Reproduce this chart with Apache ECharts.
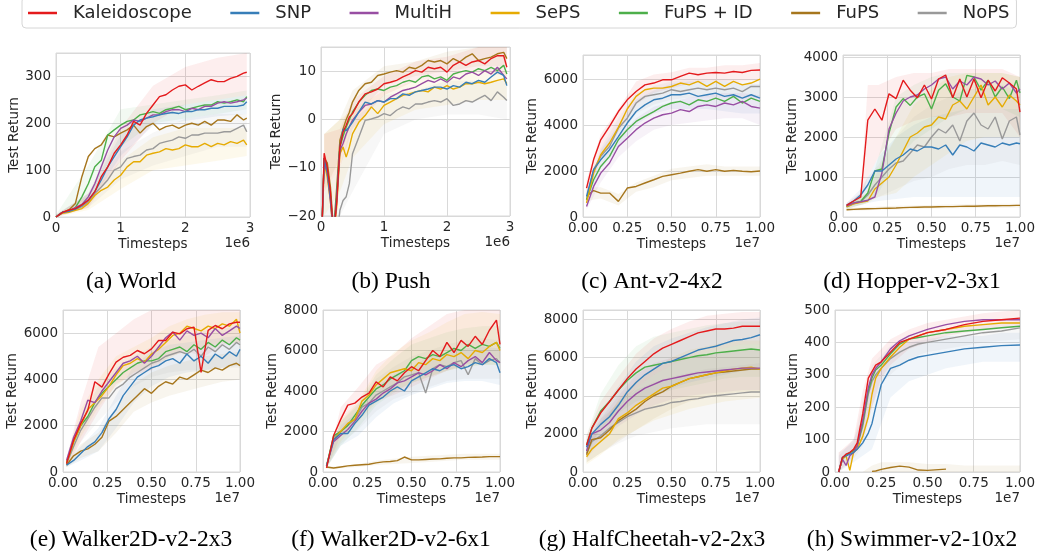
<!DOCTYPE html>
<html>
<head>
<meta charset="utf-8">
<script src="https://cdn.jsdelivr.net/npm/echarts/dist/echarts.min.js"></script>
<style>
  html, body { margin: 0; padding: 0; background: #fff; }
  #chart { width: 1038px; height: 552px; }
</style>
</head>
<body>
<div id="chart"></div>
<script>
// legend order
var seriesNames = ['Kaleidoscope', 'SNP', 'MultiH', 'SePS', 'FuPS + ID', 'FuPS', 'NoPS'];
var seriesColors = ['#e41a1c', '#377eb8', '#984ea3', '#e6ab02', '#4daf4a', '#a6761d', '#999999'];
var captions = ['(a) World', '(b) Push', '(c) Ant-v2-4x2', '(d) Hopper-v2-3x1',
  '(e) Walker2D-v2-2x3', '(f) Walker2D-v2-6x1', '(g) HalfCheetah-v2-2x3', '(h) Swimmer-v2-10x2'];

// (a) World, x in 1e6
var worldX = [0, 0.1, 0.2, 0.3, 0.4, 0.5, 0.6, 0.7, 0.8, 0.9, 1.0, 1.1, 1.2, 1.3, 1.4, 1.5, 1.6, 1.7, 1.8, 1.9, 2.0,
  2.1, 2.2, 2.3, 2.4, 2.5, 2.6, 2.7, 2.8, 2.9, 2.95];
var worldY = [
  [0, 10, 15, 18, 26, 36, 54, 86, 107, 136, 154, 175, 204, 196, 221, 239, 257, 261, 271, 279, 282, 271, 279, 286, 293, 289, 289, 296, 300, 307, 309],
  [0, 10, 12, 17, 25, 36, 54, 79, 107, 129, 150, 171, 196, 207, 211, 214, 218, 221, 223, 221, 225, 225, 229, 229, 232, 232, 236, 236, 236, 239, 246],
  [0, 10, 13, 20, 27, 43, 71, 107, 143, 171, 189, 196, 207, 204, 211, 218, 218, 225, 229, 229, 225, 232, 229, 236, 236, 243, 246, 243, 246, 250, 254],
  [0, 8, 10, 14, 18, 29, 46, 57, 64, 79, 89, 107, 118, 118, 132, 136, 139, 146, 143, 146, 154, 150, 150, 157, 150, 157, 154, 161, 157, 164, 154],
  [0, 10, 12, 20, 43, 71, 107, 121, 175, 186, 196, 204, 207, 218, 221, 225, 221, 229, 232, 236, 229, 232, 236, 239, 239, 246, 243, 246, 250, 246, 257],
  [0, 10, 15, 29, 86, 129, 146, 154, 175, 171, 179, 186, 196, 179, 193, 200, 186, 193, 196, 189, 196, 200, 196, 204, 196, 207, 207, 204, 218, 207, 211],
  [0, 10, 12, 16, 22, 32, 50, 64, 79, 100, 107, 125, 129, 132, 143, 146, 157, 161, 164, 171, 168, 175, 175, 179, 179, 179, 182, 182, 189, 196, 182]
];
var worldBandX = [0, 0.5, 1.0, 1.5, 2.0, 2.5, 2.95];
var worldBands = [
  [0, [0, 20, 120, 200, 240, 250, 260], [5, 50, 190, 280, 320, 340, 350]],
  [1, [0, 25, 130, 195, 205, 215, 220], [5, 50, 175, 230, 240, 250, 260]],
  [3, [0, 15, 60, 100, 110, 120, 130], [5, 45, 120, 170, 190, 190, 190]],
  [4, [0, 40, 150, 200, 210, 220, 230], [5, 110, 230, 240, 250, 260, 270]],
  [6, [0, 20, 80, 110, 130, 150, 150], [5, 50, 140, 180, 210, 220, 220]]
];

// (b) Push, x in 1e6
var pushX = [0.01, 0.05, 0.1, 0.15, 0.2, 0.25, 0.3, 0.35, 0.4, 0.45, 0.5, 0.6, 0.7, 0.8, 0.9, 1.0, 1.1, 1.2, 1.3, 1.4,
  1.5, 1.6, 1.7, 1.8, 1.9, 2.0, 2.1, 2.2, 2.3, 2.4, 2.5, 2.6, 2.7, 2.8, 2.9, 2.95];
var pushY = [
  [-25, -7, -10, -15, -24, -17, -5.7, -2.6, -1.2, 0.5, 1.2, 3.6, 5.3, 5.7, 6.3, 7.4, 7.7, 8.1, 8.8, 9.4, 10.1, 9.8, 10.8, 10.5, 10.8, 9.8, 11.2, 11.9, 11.2, 11.9, 12.2, 11.5, 12.6, 13.2, 13.2, 10.8],
  [-25, -8, -11, -16, -24, -16, -5.7, -2, -2.3, -1.5, -0.6, 1.5, 3.6, 3.2, 3.9, 3.6, 4.3, 4.3, 5.3, 5, 5.7, 6, 6.3, 6.7, 6.7, 6.3, 7, 6.7, 7.7, 7.4, 8.1, 7.7, 8.8, 9.8, 9.1, 7],
  [-25, -9, -11, -17, -24, -17, -6.4, -5, -3, -1.5, -0.2, 1.5, 2.9, 3.2, 3.9, 3.6, 4.6, 5.3, 6, 6.3, 6.7, 7.4, 8.1, 7.7, 8.4, 7.7, 8.8, 8.4, 9.4, 9.8, 9.1, 10.1, 9.4, 10.8, 9.1, 8.4],
  [-25, -9, -12, -17, -25, -18, -7.1, -5.7, -7.8, -5.7, -3, -0.6, 0.8, 2.6, 1.2, 2.9, 3.6, 4.3, 5, 5.3, 5.7, 6, 5.7, 6.7, 6.3, 7, 6.3, 6.7, 7.4, 7.4, 7.7, 7.4, 7.7, 8.1, 8.4, 7.4],
  [-25, -8, -11, -16, -24, -16, -5.7, -3.5, -1.6, 0, 1.5, 3.6, 5, 6, 6.3, 6, 6.7, 7, 7.7, 8.1, 7.7, 8.8, 9.1, 8.4, 8.8, 8.1, 9.4, 9.8, 10.1, 9.8, 10.5, 10.1, 10.8, 10.1, 11.2, 9.4],
  [-25, -8, -9, -14, -23, -14, -4.3, -2, 0, 1.5, 3.6, 6, 7.4, 7.7, 9.1, 9.4, 9.8, 10.1, 9.8, 10.8, 10.5, 11.2, 12.2, 11.9, 12.2, 11.5, 12.6, 11.9, 12.9, 13.6, 12.2, 12.6, 12.9, 13.6, 13.9, 12.6],
  [-30, -30, -30, -30, -30, -25, -18.8, -16.8, -16, -13.3, -7.1, -3.7, -0.2, 0.1, 0.5, 1.2, 0.8, 1.9, 2.6, 2.2, 3.2, 3.2, 3.6, 3.9, 3.6, 4.3, 2.9, 3.2, 3.9, 3.6, 4.3, 5, 3.9, 5.7, 4.6, 3.9]
];
var pushBandX = [0.05, 0.3, 0.5, 1.0, 1.5, 2.0, 2.5, 2.95];
var pushBands = [
  [0, [-15, -10, -2, 5, 8, 9, 10, 9], [-3, -2, 4, 9, 12, 13, 15, 15]],
  [3, [-20, -15, -8, -1, 2, 3, 4, 4], [-3, 0, 2, 6, 8, 9, 10, 10]],
  [5, [-15, -8, 0, 7, 9, 10, 11, 11], [-3, 0, 6, 11, 12, 14, 15, 15]],
  [6, [-30, -30, -15, -3, 0, 1, 1, 0], [-15, -10, 0, 5, 6, 8, 8, 8]]
];

// (c) Ant-v2-4x2, x in 1e7
var antX = [0.02, 0.06, 0.1, 0.15, 0.2, 0.25, 0.3, 0.35, 0.4, 0.45, 0.5, 0.55, 0.6, 0.65, 0.7, 0.75, 0.8, 0.85, 0.9, 0.95, 1.0];
var antY = [
  [1260, 2500, 3360, 3940, 4590, 5100, 5460, 5750, 5830, 5970, 5970, 6120, 6260, 6190, 6260, 6290, 6260, 6330, 6290, 6380, 6400],
  [900, 2060, 2490, 2930, 3500, 4090, 4590, 4880, 5100, 5170, 5320, 5320, 5390, 5250, 5320, 5390, 5250, 5320, 5170, 5320, 5170],
  [460, 1330, 1910, 2350, 3070, 3430, 3800, 4090, 4300, 4450, 4520, 4670, 4590, 4810, 4880, 4810, 4960, 4880, 5030, 4810, 4740],
  [610, 1910, 2710, 3220, 3900, 4700, 5250, 5540, 5610, 5610, 5680, 5830, 5750, 5900, 5680, 5900, 5680, 5900, 5750, 5830, 6000],
  [750, 1620, 2200, 2640, 3360, 3800, 4160, 4380, 4590, 4810, 4960, 5030, 4880, 5100, 5030, 5170, 5030, 5250, 4960, 5170, 5030],
  [900, 1150, 1040, 1040, 680, 1260, 1330, 1480, 1620, 1770, 1840, 1910, 1990, 2060, 1990, 2060, 1990, 2030, 1990, 1970, 2000],
  [750, 2060, 2640, 3070, 3870, 4300, 4960, 5250, 5320, 5390, 5540, 5460, 5540, 5610, 5540, 5610, 5540, 5610, 5460, 5680, 5680]
];
var antBandX = [0.02, 0.1, 0.2, 0.3, 0.4, 0.5, 0.6, 0.7, 0.8, 0.9, 1.0];
var antBands = [
  [0, [900, 2500, 3700, 4900, 5400, 5600, 5800, 5900, 5900, 5900, 6000], [1600, 3600, 4700, 5900, 6200, 6300, 6500, 6500, 6600, 6600, 6700]],
  [1, [700, 2100, 3000, 4000, 4500, 4700, 4700, 4700, 4600, 4500, 4500], [1100, 2900, 4000, 5100, 5500, 5800, 5900, 5900, 5900, 5800, 5800]],
  [6, [600, 2300, 3400, 4500, 4900, 5100, 5200, 5200, 5200, 5100, 5200], [900, 3000, 4300, 5400, 5700, 5900, 6000, 6000, 6000, 5900, 6000]],
  [2, [300, 1500, 2600, 3300, 3800, 4000, 4100, 4200, 4300, 4300, 4000], [600, 2300, 3500, 4300, 4800, 5000, 5200, 5300, 5400, 5400, 5300]],
  [5, [700, 800, 500, 1100, 1300, 1600, 1700, 1800, 1800, 1800, 1800], [1300, 1300, 1000, 1500, 1800, 2100, 2200, 2300, 2200, 2200, 2200]]
];

// (d) Hopper-v2-3x1
var hopperX = [0.02, 0.06, 0.10, 0.14, 0.18, 0.22, 0.26, 0.30, 0.34, 0.38, 0.42, 0.46, 0.50, 0.54, 0.58, 0.62, 0.66,
  0.70, 0.74, 0.78, 0.82, 0.86, 0.90, 0.94, 0.98, 1.0];
var hopperY = [
  [290, 400, 500, 2420, 2700, 2420, 3080, 2960, 3420, 3170, 2980, 3300, 2950, 3450, 3550, 2980, 3450, 3000, 3450, 2980, 3420, 3150, 3480, 3350, 3200, 2620],
  [300, 400, 550, 800, 1150, 1150, 1300, 1450, 1550, 1700, 1650, 1750, 1750, 1700, 1800, 1550, 1800, 1750, 1650, 1850, 1800, 1750, 1850, 1800, 1850, 1830],
  [280, 350, 380, 420, 500, 1100, 2200, 2600, 2900, 3000, 3050, 3200, 3300, 3450, 3500, 3200, 3400, 3300, 3500, 3450, 3300, 3400, 3200, 3350, 3100, 3200],
  [260, 330, 370, 400, 700, 850, 1000, 1300, 1650, 2000, 2100, 2250, 2300, 2500, 2450, 2800, 2900, 2700, 3000, 3300, 2800, 3000, 2750, 3050, 2900, 2800],
  [260, 350, 390, 600, 1150, 1200, 2100, 2750, 2960, 2790, 3000, 3080, 2700, 3170, 3330, 3000, 2900, 3540, 3500, 3170, 3420, 3000, 3250, 2960, 3420, 3100],
  [180, 190, 200, 205, 210, 215, 220, 225, 235, 240, 245, 250, 250, 255, 260, 260, 265, 270, 270, 275, 280, 280, 285, 285, 290, 290],
  [250, 330, 380, 550, 800, 1000, 1200, 1350, 1400, 1600, 1800, 1750, 2000, 2200, 2100, 2300, 1900, 2400, 2600, 2300, 2200, 2500, 1950, 2400, 2500, 2050]
];
var hopperBandX = [0.02, 0.1, 0.14, 0.2, 0.3, 0.4, 0.5, 0.6, 0.7, 0.8, 0.9, 1.0];
var hopperBands = [
  [0, [250, 400, 1000, 1500, 2200, 2400, 2500, 2500, 2600, 2600, 2600, 2000], [350, 600, 3300, 3300, 3500, 3600, 3600, 3700, 3700, 3700, 3700, 3500]],
  [1, [250, 300, 350, 400, 450, 500, 500, 500, 500, 500, 500, 500], [350, 700, 1000, 1500, 2000, 2300, 2500, 2600, 2700, 2700, 2700, 2700]],
  [3, [200, 300, 350, 500, 600, 1000, 1300, 1600, 1900, 2000, 2000, 2000], [300, 500, 600, 1200, 2000, 2800, 3200, 3500, 3600, 3600, 3600, 3500]],
  [4, [200, 300, 350, 600, 1400, 1900, 2200, 2500, 2700, 2700, 2700, 2500], [300, 500, 600, 1500, 3000, 3300, 3500, 3600, 3600, 3600, 3600, 3500]],
  [6, [200, 300, 400, 500, 700, 900, 1000, 1200, 1300, 1300, 1400, 1300], [300, 600, 1000, 1300, 2000, 2500, 2800, 3000, 3200, 3200, 3300, 3100]],
  [5, [150, 160, 170, 180, 190, 200, 210, 220, 220, 230, 230, 240], [230, 240, 250, 260, 280, 290, 300, 310, 320, 320, 330, 330]]
];

// (e) Walker2D-v2-2x3
var walkerAX = hopperX;
var walkerAY = [
  [360, 1370, 2090, 2660, 3900, 3670, 4240, 4750, 4960, 5040, 5250, 5110, 5320, 5680, 5680, 6040, 5970, 6190, 6260, 4300, 6120, 6330, 6190, 6400, 6470, 6470],
  [300, 500, 800, 1100, 1300, 1700, 2300, 2700, 3300, 3700, 4100, 4300, 4500, 4600, 4800, 4900, 4700, 5100, 4800, 5000, 4700, 5100, 4900, 5200, 5000, 5300],
  [500, 1500, 2200, 3100, 3000, 3500, 3900, 4300, 4700, 4800, 5000, 4700, 5000, 5400, 5800, 6050, 5700, 6100, 5900, 6000, 5800, 6200, 5900, 6100, 6300, 6200],
  [400, 1300, 2000, 2700, 3000, 3300, 3700, 4200, 4600, 4700, 4900, 4750, 5100, 5300, 5600, 5900, 6000, 6300, 6200, 6100, 6300, 6200, 6400, 6300, 6600, 6000],
  [400, 1300, 2000, 2400, 3000, 3400, 3700, 4000, 4300, 4500, 4700, 4800, 4800, 4900, 5200, 5300, 5400, 5200, 5500, 5300, 5600, 5400, 5700, 5500, 5800, 5700],
  [300, 700, 900, 1000, 1200, 1500, 2200, 2400, 2700, 3000, 3300, 3600, 3400, 3700, 3900, 3800, 4100, 4000, 4200, 4400, 4300, 4500, 4400, 4600, 4700, 4600],
  [350, 1100, 1800, 2300, 2800, 3200, 3200, 3600, 3800, 4100, 4300, 4500, 4700, 4800, 5000, 5100, 5200, 5100, 5300, 5000, 5400, 5200, 5500, 5300, 5600, 5500]
];
var walkerBandX = [0.02, 0.1, 0.2, 0.3, 0.4, 0.5, 0.6, 0.7, 0.8, 0.9, 1.0];
var walkerABands = [
  [0, [200, 1300, 2600, 3800, 4200, 4400, 5000, 5200, 5000, 5500, 5600], [600, 3000, 5400, 6000, 6600, 7000, 7000, 7000, 7000, 7000, 7000]],
  [1, [200, 500, 900, 1900, 3000, 3700, 4100, 4300, 4400, 4500, 4600], [400, 1100, 1900, 3300, 4600, 5200, 5500, 5600, 5700, 5800, 5900]],
  [5, [200, 600, 900, 1700, 2600, 3000, 3300, 3500, 3700, 3900, 4000], [400, 1200, 1700, 2800, 3800, 4300, 4600, 4800, 5000, 5100, 5200]],
  [6, [200, 1300, 2200, 3000, 3700, 4100, 4300, 4400, 4400, 4500, 4500], [500, 2300, 3700, 4500, 5000, 5400, 5700, 5900, 6100, 6200, 6300]],
  [3, [200, 1500, 2800, 3700, 4300, 4600, 4900, 5300, 5400, 5600, 5600], [600, 2700, 4000, 5000, 5400, 5800, 6300, 6600, 6800, 6900, 6900]]
];

// (f) Walker2D-v2-6x1
var walkerBX = hopperX;
var walkerBY = [
  [200, 1800, 2600, 3300, 3400, 3700, 3900, 4450, 4200, 4700, 4500, 4900, 5200, 5000, 5500, 6000, 5700, 6400, 5900, 6500, 6200, 6700, 6300, 7000, 7500, 6300],
  [300, 1600, 1900, 1900, 2400, 2800, 3300, 3500, 3700, 4000, 4200, 4000, 4500, 4700, 4900, 5100, 5000, 5200, 5300, 5100, 5200, 5400, 5300, 5600, 5400, 4900],
  [300, 1500, 1800, 2100, 2500, 3000, 3400, 3600, 3900, 4100, 4400, 4500, 4700, 4900, 4800, 5000, 5300, 5100, 5400, 5200, 5500, 5700, 5400, 5900, 5500, 5400],
  [300, 1600, 2000, 2400, 2600, 3500, 3800, 4300, 4600, 4900, 5000, 5100, 5000, 5400, 5300, 5600, 5500, 5800, 5700, 5900, 5600, 6000, 5900, 6200, 6400, 6000],
  [300, 1800, 2000, 2300, 2800, 3300, 3700, 4100, 4300, 4600, 4800, 5000, 5500, 5700, 5600, 5800, 5700, 5900, 6100, 6000, 6300, 6100, 6300, 6200, 6400, 6100],
  [250, 200, 250, 300, 330, 360, 380, 450, 500, 520, 560, 740, 600, 600, 620, 640, 650, 680, 700, 700, 720, 730, 740, 760, 760, 760],
  [300, 1700, 2000, 2300, 2600, 3200, 3400, 3800, 4000, 4200, 4400, 4700, 4800, 4900, 3900, 5100, 5300, 5200, 5400, 5500, 4800, 5600, 5300, 5500, 5600, 5400]
];
var walkerBBands = [
  [0, [150, 1800, 2700, 3500, 3800, 4200, 4600, 5000, 5300, 5500, 5600], [300, 3200, 4200, 5300, 5800, 6600, 7200, 7800, 8000, 8000, 8000]],
  [4, [200, 1300, 2200, 3300, 3900, 4400, 4700, 5000, 5200, 5300, 5300], [400, 2500, 3400, 4800, 5600, 6300, 6600, 6900, 7100, 7200, 7200]],
  [1, [200, 1300, 1800, 2700, 3400, 3800, 4100, 4400, 4500, 4500, 4300], [400, 2300, 3000, 4200, 4800, 5200, 5700, 5900, 6100, 6200, 6100]],
  [6, [200, 1400, 2100, 3000, 3600, 3900, 4200, 4500, 4600, 4600, 4600], [400, 2500, 3300, 4600, 5200, 5700, 6000, 6300, 6500, 6600, 6500]],
  [3, [200, 1500, 2500, 3400, 4000, 4400, 4700, 5000, 5200, 5300, 5300], [400, 2600, 3500, 5000, 5900, 6500, 6900, 7400, 7800, 7900, 7800]],
  [5, [150, 180, 250, 350, 400, 450, 500, 550, 600, 600, 600], [250, 300, 400, 550, 650, 750, 800, 850, 900, 900, 900]]
];

// (g) HalfCheetah-v2-2x3
var cheetahX = [0.02, 0.05, 0.1, 0.15, 0.2, 0.25, 0.3, 0.35, 0.4, 0.45, 0.5, 0.55, 0.6, 0.65, 0.7, 0.75, 0.8, 0.85, 0.9, 0.95, 1.0];
var cheetahY = [
  [1400, 2300, 3100, 3700, 4300, 4900, 5400, 5800, 6200, 6500, 6700, 6900, 7100, 7300, 7400, 7500, 7500, 7550, 7650, 7650, 7650],
  [1300, 2000, 2500, 2900, 3500, 4200, 4700, 5100, 5400, 5700, 5800, 6000, 6200, 6400, 6500, 6600, 6750, 6900, 6950, 7050, 7200],
  [1100, 2000, 2200, 2600, 3200, 3700, 4100, 4400, 4600, 4800, 4900, 5000, 5100, 5200, 5250, 5300, 5350, 5400, 5450, 5450, 5450],
  [800, 1200, 1600, 2000, 2800, 3100, 3500, 3800, 4100, 4400, 4500, 4700, 4900, 5000, 5100, 5200, 5300, 5400, 5450, 5500, 5400],
  [1400, 2300, 3200, 3700, 4300, 4800, 5200, 5500, 5600, 5700, 5800, 5900, 6000, 6100, 6150, 6250, 6300, 6350, 6400, 6450, 6400],
  [900, 1700, 1800, 2200, 2700, 3000, 3300, 3700, 4000, 4200, 4500, 4700, 4900, 5000, 5100, 5200, 5250, 5300, 5350, 5400, 5400],
  [1000, 1600, 1900, 2300, 2600, 2900, 3100, 3300, 3400, 3500, 3650, 3700, 3800, 3850, 3950, 4000, 4050, 4100, 4150, 4200, 4200]
];
var cheetahBandX = walkerBandX;
var cheetahBands = [
  [0, [900, 2400, 3500, 4400, 5100, 5600, 6000, 6300, 6500, 6700, 6700], [1900, 3700, 5000, 6200, 7000, 7500, 7900, 8200, 8300, 8400, 8400]],
  [4, [900, 2300, 3100, 3700, 4000, 4300, 4500, 4700, 4900, 5000, 5000], [1900, 4100, 5600, 6600, 7100, 7300, 7500, 7700, 7800, 7900, 7900]],
  [5, [500, 1000, 1600, 2200, 2800, 3300, 3700, 3900, 4100, 4200, 4200], [1400, 2600, 3700, 4400, 5100, 5600, 6000, 6300, 6500, 6700, 6700]],
  [6, [500, 1000, 1500, 1900, 2100, 2300, 2400, 2500, 2500, 2500, 2500], [1500, 2800, 3600, 4300, 4700, 5000, 5200, 5400, 5500, 5600, 5700]],
  [3, [400, 900, 1700, 2200, 2700, 3000, 3300, 3500, 3700, 3800, 3900], [1200, 2300, 3800, 4800, 5400, 6000, 6400, 6600, 6800, 6900, 6900]],
  [1, [900, 1800, 2600, 3500, 4000, 4400, 4700, 4900, 5100, 5300, 5400], [1700, 3200, 4500, 5800, 6600, 7000, 7300, 7600, 7800, 8000, 8100]],
  [2, [700, 1600, 2400, 3000, 3500, 3800, 4000, 4100, 4200, 4300, 4300], [1500, 2800, 4000, 5100, 5700, 6000, 6100, 6200, 6300, 6400, 6400]]
];

// (h) Swimmer-v2-10x2
var swimmerX = [0.02, 0.04, 0.06, 0.08, 0.1, 0.12, 0.15, 0.18, 0.2, 0.22, 0.25, 0.3, 0.35, 0.4, 0.45, 0.5, 0.6, 0.7, 0.8, 0.9, 1.0];
var swimmerY = [
  [0, 45, 55, 60, 70, 90, 180, 290, 310, 330, 340, 370, 400, 410, 420, 430, 440, 455, 465, 470, 475],
  [0, 45, 50, 55, 60, 70, 90, 120, 150, 200, 270, 320, 330, 345, 355, 360, 370, 380, 385, 390, 392],
  [0, 40, 20, 50, 60, 80, 160, 260, 300, 320, 340, 380, 405, 420, 430, 440, 455, 465, 470, 470, 470],
  [0, 40, 50, 5, 60, 70, 110, 170, 240, 290, 320, 355, 385, 410, 420, 430, 440, 450, 455, 460, 460],
  [0, 40, 50, 60, 65, 80, 150, 250, 290, 315, 330, 365, 395, 410, 415, 420, 430, 435, 440, 445, 450],
  [null, null, null, null, null, null, null, null, 2, 3, 8, 14, 18, 15, 6, 5, 9, null, null, null, null],
  [0, 40, 55, 60, 65, 80, 140, 240, 280, 300, 320, 350, 370, 385, 395, 400, 410, 420, 430, 435, 445]
];
var swimmerBandX = [0.02, 0.1, 0.15, 0.2, 0.25, 0.3, 0.4, 0.5, 0.6, 0.7, 0.8, 0.9, 1.0];
var swimmerBands = [
  [1, [0, 30, 50, 70, 150, 230, 280, 300, 320, 330, 340, 340, 340], [50, 100, 170, 280, 350, 380, 400, 410, 420, 420, 420, 430, 430]],
  [0, [0, 50, 100, 200, 290, 330, 380, 400, 420, 430, 440, 445, 450], [60, 100, 250, 350, 380, 410, 440, 460, 470, 480, 490, 495, 500]],
  [6, [0, 40, 80, 200, 270, 300, 350, 370, 380, 390, 400, 405, 410], [60, 90, 220, 330, 360, 390, 420, 430, 440, 450, 455, 460, 465]],
  [5, [0, 0, 0, 0, 0, 0, 0, 0, 0, 0, 0, 0, 0], [0, 0, 0, 20, 30, 30, 30, 25, 25, 20, 20, 20, 20]]
];

var panels = [
  { x: worldX, ys: worldY, bx: worldBandX, bands: worldBands, xMax: 3, xStep: 1, yMin: 0, yMax: 350, yStep: 100, exp: '1e6', box: [56, 53, 194, 164], yGap: 33 },
  { x: pushX, ys: pushY, bx: pushBandX, bands: pushBands, xMax: 3, xStep: 1, yMin: -20, yMax: 15, yStep: 10, exp: '1e6', box: [321, 47, 189, 169], yGap: 38 },
  { x: antX, ys: antY, bx: antBandX, bands: antBands, xMax: 1, xStep: 0.25, yMin: 0, yMax: 7050, yStep: 2000, exp: '1e7', box: [583, 55, 177, 162], yGap: 40 },
  { x: hopperX, ys: hopperY, bx: hopperBandX, bands: hopperBands, xMax: 1, xStep: 0.25, yMin: 0, yMax: 4050, yStep: 1000, exp: '1e7', box: [843, 55, 177, 162], yGap: 40 },
  { x: walkerAX, ys: walkerAY, bx: walkerBandX, bands: walkerABands, xMax: 1, xStep: 0.25, yMin: 0, yMax: 7000, yStep: 2000, exp: '1e7', box: [63, 310, 177, 162], yGap: 40 },
  { x: walkerBX, ys: walkerBY, bx: walkerBandX, bands: walkerBBands, xMax: 1, xStep: 0.25, yMin: 0, yMax: 8000, yStep: 2000, exp: '1e7', box: [323, 310, 177, 162], yGap: 40 },
  { x: cheetahX, ys: cheetahY, bx: cheetahBandX, bands: cheetahBands, xMax: 1, xStep: 0.25, yMin: 0, yMax: 8500, yStep: 2000, exp: '1e7', box: [583, 310, 177, 162], yGap: 40 },
  { x: swimmerX, ys: swimmerY, bx: swimmerBandX, bands: swimmerBands, xMax: 1, xStep: 0.25, yMin: 0, yMax: 500, yStep: 100, exp: '1e7', box: [835, 310, 185, 162], yGap: 32 }
];
var captionCenters = [131, 391, 652, 912];

var textColor = '#262626';
var gridColor = '#d9d9d9';
var font = 'DejaVu Sans';

function rgba(hex, a) {
  var n = parseInt(hex.slice(1), 16);
  return 'rgba(' + (n >> 16) + ',' + ((n >> 8) & 255) + ',' + (n & 255) + ',' + a + ')';
}

function bandSeries(gi, p, xs, lo, hi, color) {
  function clampY(v) { return Math.max(p.yMin, Math.min(p.yMax, v)); }
  return {
    type: 'custom', xAxisIndex: gi, yAxisIndex: gi, silent: true, z: 1,
    data: [[xs[0], clampY(lo[0])]],
    encode: { x: 0, y: 1 },
    renderItem: function (params, api) {
      var pts = [];
      for (var j = 0; j < xs.length; j++) pts.push(api.coord([xs[j], clampY(hi[j])]));
      for (var k = xs.length - 1; k >= 0; k--) pts.push(api.coord([xs[k], clampY(lo[k])]));
      return { type: 'polygon', shape: { points: pts }, style: { fill: rgba(color, 0.075), stroke: null } };
    }
  };
}

var option = {
  animation: false,
  backgroundColor: '#fff',
  textStyle: { fontFamily: font },
  legend: {
    data: seriesNames,
    selectedMode: false,
    left: 22, top: -3,
    padding: [7, 7, 6, 6],
    itemGap: 38.5,
    itemWidth: 29, itemHeight: 2.5,
    icon: 'rect',
    borderColor: '#d6d6d6', borderWidth: 1, borderRadius: 4,
    textStyle: { fontFamily: font, fontSize: 18, color: textColor, padding: [0, 0, 0, 11] }
  },
  grid: [], xAxis: [], yAxis: [], series: [], graphic: []
};

panels.forEach(function (p, i) {
  option.grid.push({
    left: p.box[0], top: p.box[1], width: p.box[2], height: p.box[3],
    show: true, borderColor: gridColor, borderWidth: 1, backgroundColor: '#fff'
  });
  option.xAxis.push({
    type: 'value', gridIndex: i, min: 0, max: p.xMax, interval: p.xStep,
    name: 'Timesteps', nameLocation: 'middle', nameGap: 20,
    nameTextStyle: { fontFamily: font, fontSize: 13.5, color: textColor },
    axisLine: { show: false }, axisTick: { show: false },
    axisLabel: {
      margin: 4, fontFamily: font, fontSize: 13.5, color: textColor, hideOverlap: false,
      formatter: function (v) { return p.xStep < 1 ? v.toFixed(2) : String(Math.round(v)); }
    },
    splitLine: { show: true, lineStyle: { color: gridColor, width: 1 } }
  });
  option.yAxis.push({
    type: 'value', gridIndex: i, min: p.yMin, max: p.yMax, interval: p.yStep,
    name: 'Test Return', nameLocation: 'middle', nameGap: p.yGap,
    nameTextStyle: { fontFamily: font, fontSize: 13.5, color: textColor },
    axisLine: { show: false }, axisTick: { show: false },
    axisLabel: {
      margin: 5, fontFamily: font, fontSize: 13.5, color: textColor, showMaxLabel: (p.yMax % p.yStep === 0),
      formatter: function (v) { return v < 0 ? '\u2212' + String(-v) : String(v); }
    },
    splitLine: { show: true, lineStyle: { color: gridColor, width: 1 } }
  });

  p.bands.forEach(function (b) {
    option.series.push(bandSeries(i, p, p.bx, b[1], b[2], seriesColors[b[0]]));
  });

  // draw in reverse legend order so Kaleidoscope ends on top
  for (var s = seriesNames.length - 1; s >= 0; s--) {
    var ys = p.ys[s];
    option.series.push({
      type: 'line', name: seriesNames[s], xAxisIndex: i, yAxisIndex: i, z: 2,
      data: p.x.map(function (xv, j) { return [xv, ys[j]]; }),
      showSymbol: false, symbol: 'none', clip: true, silent: true,
      color: seriesColors[s],
      itemStyle: { color: seriesColors[s] },
      lineStyle: { color: seriesColors[s], width: 1.4 }
    });
  }

  var right = p.box[0] + p.box[2];
  var bottom = p.box[1] + p.box[3];
  option.graphic.push({
    type: 'text', x: right, y: bottom + 26, silent: true,
    style: { text: p.exp, fill: textColor, font: '13.5px "DejaVu Sans"', textAlign: 'right', textVerticalAlign: 'middle', verticalAlign: 'middle' }
  });
  option.graphic.push({
    type: 'text', x: captionCenters[i % 4], y: i < 4 ? 282 : 540, silent: true,
    style: { text: captions[i], fill: '#000', font: '23.5px "Liberation Serif", "Times New Roman", serif', textAlign: 'center', textVerticalAlign: 'middle', verticalAlign: 'middle' }
  });
});

var chart = echarts.init(document.getElementById('chart'), null, { renderer: 'canvas' });
chart.setOption(option);
</script>
</body>
</html>
